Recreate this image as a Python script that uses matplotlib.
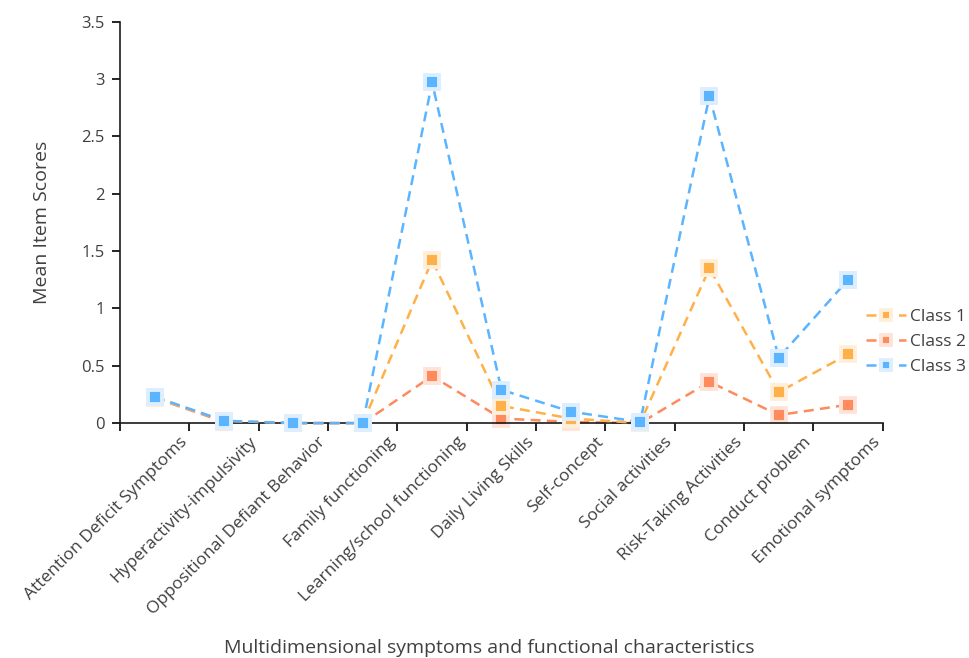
import numpy as np
import matplotlib.pyplot as plt
from matplotlib.transforms import ScaledTranslation

plt.rcParams['font.family'] = ['Open Sans', 'DejaVu Sans']

# data
categories = ["Attention Deficit Symptoms", "Hyperactivity-impulsivity",
              "Oppositional Defiant Behavior", "Family functioning",
              "Learning/school functioning", "Daily Living Skills",
              "Self-concept", "Social activities", "Risk-Taking Activities",
              "Conduct problem", "Emotional symptoms"]
class1 = [0.22, 0.02, 0.00, 0.00, 1.42, 0.15, 0.04, 0.00, 1.35, 0.27, 0.60]
class2 = [0.22, 0.01, 0.00, 0.00, 0.41, 0.04, 0.01, 0.00, 0.36, 0.07, 0.16]
class3 = [0.23, 0.02, 0.00, 0.00, 2.97, 0.29, 0.10, 0.01, 2.85, 0.57, 1.25]

series = [("Class 1", class1, "#FFB048", "#FFEFD9", 3),
          ("Class 2", class2, "#FF8A5C", "#FFE3D8", 2),
          ("Class 3", class3, "#5BB4FF", "#DCEEFF", 4)]

txt = "#404040"
fig = plt.figure(figsize=(9.69, 6.58), dpi=100)
ax = fig.add_axes([0.124, 0.357, 0.787, 0.610])

x = np.arange(len(categories))
for name, vals, col, halo, z in series:
    ax.plot(x, vals, ls=(0, (4, 2.5)), lw=1.8, color=col, marker='s',
            ms=9.5, mfc=col, mec=halo, mew=2.8, label=name, zorder=z,
            clip_on=False)

ax.set_xlim(-0.5, len(categories) - 0.5)
ax.set_ylim(0, 3.5)
ax.set_yticks(np.arange(0, 3.51, 0.5))
ax.set_yticklabels(["0", "0.5", "1", "1.5", "2", "2.5", "3", "3.5"])

ax.set_xticks(np.arange(-0.5, len(categories), 1.0))
ax.set_xticklabels([])
ax.set_xticks(x, minor=True)
ax.set_xticklabels(categories, minor=True, rotation=45, ha='right',
                   va='center', rotation_mode='anchor', fontsize=12.5, color=txt)
ax.tick_params(axis='x', which='minor', length=0, pad=12)
ax.tick_params(axis='x', which='major', length=6, width=1.2, direction='out')
ax.tick_params(axis='y', length=6, width=1.2, labelsize=12, labelcolor=txt, pad=5)
for lab in ax.get_xticklabels(minor=True):
    lab.set_transform(lab.get_transform() + ScaledTranslation(0.30, 0, fig.dpi_scale_trans))

for s in ['top', 'right']:
    ax.spines[s].set_visible(False)
for s in ['left', 'bottom']:
    ax.spines[s].set_linewidth(1.2)
    ax.spines[s].set_color('#1a1a1a')

ax.set_ylabel("Mean Item Scores", fontsize=14, color=txt, labelpad=22)
fig.text(0.505, 0.008, "Multidimensional symptoms and functional characteristics",
         ha='center', fontsize=14, color=txt)

fig.legend(loc='center right', bbox_to_anchor=(1.0, 0.48), frameon=False,
           fontsize=12.5, markerscale=0.7, handlelength=2.3, labelcolor=txt,
           labelspacing=0.5, handletextpad=0.25, borderpad=0.1,
           borderaxespad=0.05)

fig.savefig('out.png', dpi=100)
